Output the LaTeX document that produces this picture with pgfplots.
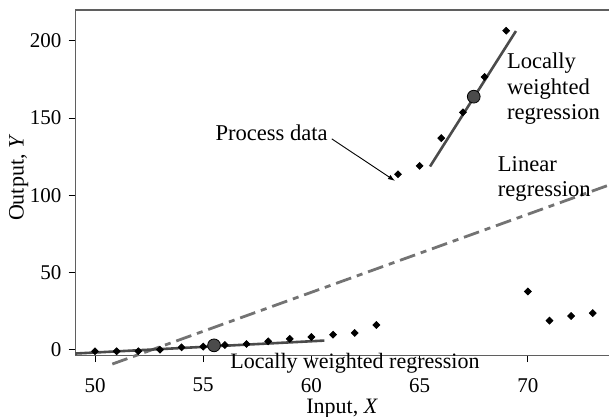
\documentclass[border=0pt]{standalone}
\usepackage{fontspec}
\setmainfont{Liberation Serif}
\usepackage{pgfplots}
\pgfplotsset{compat=1.18}
\usetikzlibrary{arrows.meta}
\definecolor{lwr}{RGB}{75,75,75}
\definecolor{linreg}{RGB}{115,115,115}
\definecolor{axgray}{RGB}{95,95,95}
\begin{document}
\begin{tikzpicture}
\begin{axis}[
  scale only axis,
  width=267pt, height=172.85pt,
  xmin=49.09, xmax=73.75,
  ymin=-3.7, ymax=220,
  axis x line=box, axis y line=left,
  axis line style={-, axgray, line width=0.8pt},
  xtick={50,55,60,65,70},
  ytick={0,50,100,150,200},
  xtick pos=bottom, ytick pos=left,
  tick align=outside,
  major tick length=3.4pt,
  tick style={black, line width=0.5pt},
  /pgf/number format/assume math mode=true,
  tick label style={font=\fontsize{10.5}{12}\selectfont},
  xticklabel style={yshift=-4.5pt},
  xlabel={Input, \textit{X}},
  ylabel={Output, \textit{Y}},
  label style={font=\fontsize{11}{13}\selectfont},
  xlabel style={at={(axis description cs:0.5,0)}, anchor=base, yshift=-29.1pt},
  ylabel style={at={(axis description cs:-0.0968,0.514)}, anchor=base},
  clip=false,
]
% process data
\addplot[only marks, mark=square*, mark size=1.2pt, mark options={rotate=45, black}, black] coordinates {
(50,-1) (51,-1) (52,-1) (53,0) (54,1.5) (55,2) (56,3) (57,3.7) (58,5.4) (59,7) (60,8.2)
(61,9.7) (62,10.8) (63,16) (64,113.6) (65,119) (66,137) (67,153.7) (68,176.6) (69,206.5)
(70,37.7) (71,18.8) (72,21.8) (73,23.7)
};
% linear regression
\addplot[linreg, line width=1.4pt, dash pattern=on 8pt off 3pt on 3pt off 3pt] coordinates {(50.8,-9.3) (73.75,106.6)};
% locally weighted regression lines
\addplot[lwr, line width=1.3pt] coordinates {(49.09,-2.5) (60.6,5.9)};
\addplot[lwr, line width=1.3pt] coordinates {(65.48,118.6) (69.45,206.3)};
% query points
\addplot[only marks, mark=*, mark size=3.2pt, mark options={fill=lwr, draw=black, line width=0.4pt}] coordinates {(55.5,2.8) (67.5,163.8)};
% annotations
\node[anchor=base west, inner sep=0pt, font=\fontsize{11.3}{13}\selectfont] at (axis cs:55.55,135.5) {Process data};
\draw[-{Latex[length=3.5pt,width=2.5pt]}, line width=0.45pt] (axis cs:60.94,136.5) -- (axis cs:63.86,109.3);
\node[anchor=base west, inner sep=0pt, font=\fontsize{11.3}{13}\selectfont] at (axis cs:69.02,181.8) {Locally};
\node[anchor=base west, inner sep=0pt, font=\fontsize{11.3}{13}\selectfont] at (axis cs:69.02,165.3) {weighted};
\node[anchor=base west, inner sep=0pt, font=\fontsize{11.3}{13}\selectfont] at (axis cs:69.02,148.8) {regression};
\node[anchor=base west, inner sep=0pt, font=\fontsize{11.3}{13}\selectfont] at (axis cs:68.60,115.3) {Linear};
\node[anchor=base west, inner sep=0pt, font=\fontsize{11.3}{13}\selectfont] at (axis cs:68.60,99.2) {regression};
\node[anchor=base west, inner sep=0pt, font=\fontsize{11}{13}\selectfont] at (axis cs:56.24,-12.3) {Locally weighted regression};
\coordinate (bbsw) at (axis cs:45.61,-43.34);
\coordinate (bbne) at (axis cs:73.75,226.4);
\end{axis}
\pgfresetboundingbox
\path[use as bounding box] (bbsw) rectangle (bbne);
\end{tikzpicture}
\end{document}
